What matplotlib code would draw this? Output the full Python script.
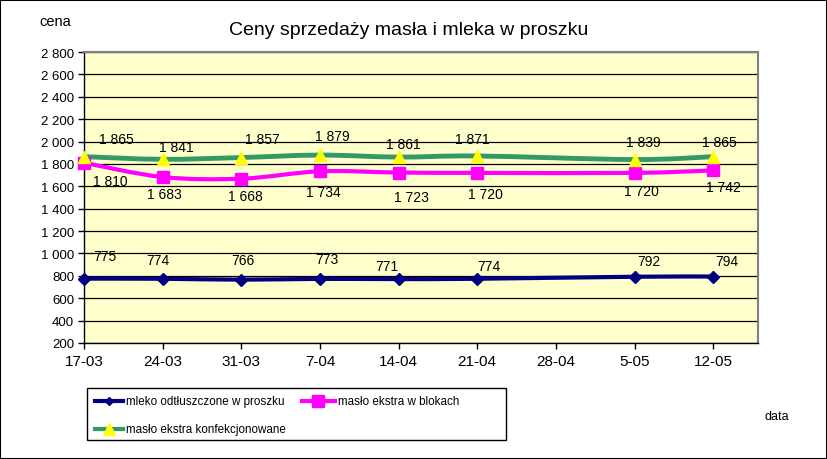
import matplotlib
matplotlib.use("Agg")
import matplotlib.pyplot as plt
from matplotlib.path import Path
from matplotlib.patches import PathPatch, Rectangle
from matplotlib.lines import Line2D
import numpy as np

plt.rcParams['font.family'] = ['Liberation Sans', 'DejaVu Sans']

categories = ['17-03', '24-03', '31-03', '7-04', '14-04', '21-04', '28-04', '5-05', '12-05']
mleko = [775, 774, 766, 773, 771, 774, None, 792, 794]
maslo_blok = [1810, 1683, 1668, 1734, 1723, 1720, None, 1720, 1742]
maslo_konf = [1865, 1841, 1857, 1879, 1861, 1871, None, 1839, 1865]

names = ['mleko odtłuszczone w proszku', 'masło ekstra w blokach', 'masło ekstra konfekcjonowane']

# label offsets in pixels (dx, dy) - style only
off_mleko = [(21, 23), (-5, 19), (2, 20), (7, 20), (-12, 13), (12, 13), None, (14, 16), (14, 16)]
off_blok = [(26, -18), (2, -17), (4, -17), (3, -21), (13, -24), (8, -21), None, (7, -18), (10, -17)]
off_konf = [(32, 18), (14, 12), (21, 19), (12, 19), (5, 13), (-5, 17), None, (9, 18), (6, 15)]

W, H = 828, 460
fig = plt.figure(figsize=(W / 100, H / 100), dpi=100)
ax = fig.add_axes([84 / W, 1 - 344 / H, (758 - 84) / W, (344 - 53) / H])
ax.set_facecolor('#FFFFCC')
ax.set_xlim(0, 8.57)
ax.set_ylim(200, 2800)
ax.set_yticks(np.arange(200, 2801, 200))
ax.set_yticklabels([f"{v:,}".replace(',', ' ') for v in range(200, 2801, 200)], fontsize=9.5)
ax.set_xticks(range(len(categories)))
ax.set_xticklabels(categories, fontsize=11)
ax.grid(axis='y', color='black', linewidth=0.9)
ax.set_axisbelow(True)
ax.tick_params(axis='y', length=4, width=1, pad=3, color='black')
ax.tick_params(axis='x', length=4, width=1, pad=4, color='black')
for s in ['top', 'right']:
    ax.spines[s].set_color('#808080')
    ax.spines[s].set_linewidth(1.5)
for s in ['left', 'bottom']:
    ax.spines[s].set_color('black')
    ax.spines[s].set_linewidth(1)


def smooth_path(xs, ys):
    pts = np.column_stack([xs, ys]).astype(float)
    n = len(pts)
    verts = [pts[0]]
    codes = [Path.MOVETO]
    for i in range(n - 1):
        p0 = pts[i - 1] if i > 0 else pts[i]
        p1 = pts[i]
        p2 = pts[i + 1]
        p3 = pts[i + 2] if i + 2 < n else pts[i + 1]
        c1 = p1 + (p2 - p0) / 6.0
        c2 = p2 - (p3 - p1) / 6.0
        verts += [c1, c2, p2]
        codes += [Path.CURVE4] * 3
    return Path(verts, codes)


series = [
    (mleko, '#000080', 3, 'D', 6.5, '#000080', off_mleko),
    (maslo_blok, '#FF00FF', 3, 's', 8, '#FF00FF', off_blok),
    (maslo_konf, '#339966', 3.5, '^', 8.5, '#FFFF00', off_konf),
]

for vals, col, lw, mk, ms, mfc, offs in series:
    xs = [i for i, v in enumerate(vals) if v is not None]
    ys = [v for v in vals if v is not None]
    ax.add_patch(PathPatch(smooth_path(xs, ys), facecolor='none', edgecolor=col,
                           linewidth=lw, zorder=3, capstyle='round', joinstyle='round',
                           clip_on=False))
    ax.plot(xs, ys, linestyle='none', marker=mk, markersize=ms,
            markerfacecolor=mfc, markeredgecolor=mfc, zorder=4, clip_on=False)
    for i, v in enumerate(vals):
        if v is None:
            continue
        dx, dy = offs[i]
        ax.annotate(f"{v:,}".replace(',', ' '), (i, v), xytext=(dx, dy),
                    textcoords='offset pixels', ha='center', va='center',
                    fontsize=10, color='black', zorder=5)

fig.text(409 / W, 1 - 31 / H, 'Ceny sprzedaży masła i mleka w proszku',
         ha='center', va='center', fontsize=14)
fig.text(55 / W, 1 - 22 / H, 'cena', ha='center', va='center', fontsize=10.5)
fig.text(777 / W, 1 - 417 / H, 'data', ha='center', va='center', fontsize=9)

# legend box
fig.patches.append(Rectangle((87 / W, 1 - 441 / H), (506 - 87) / W, (441 - 389) / H,
                             transform=fig.transFigure, facecolor='white',
                             edgecolor='black', linewidth=1, zorder=1))
leg_items = [
    (95, 123, 402, '#000080', 'D', 4, '#000080', names[0]),
    (302, 335, 402, '#FF00FF', 's', 8, '#FF00FF', names[1]),
    (95, 123, 430, '#339966', '^', 8, '#FFFF00', names[2]),
]
for x0, x1, yy, col, mk, ms, mfc, name in leg_items:
    fig.add_artist(Line2D([x0 / W, x1 / W], [1 - yy / H, 1 - yy / H], color=col,
                          linewidth=3, transform=fig.transFigure, zorder=2))
    fig.add_artist(Line2D([(x0 + x1) / 2 / W], [1 - yy / H], marker=mk, markersize=ms,
                          markerfacecolor=mfc, markeredgecolor=mfc,
                          transform=fig.transFigure, zorder=3, linestyle='none'))
    fig.text((x1 + 3) / W, 1 - yy / H, name, ha='left', va='center', fontsize=8.4,
             zorder=3)

# figure border
fig.patches.append(Rectangle((0.5 / W, 0.5 / H), 1 - 1.5 / W, 1 - 1.5 / H,
                             transform=fig.transFigure, facecolor='none',
                             edgecolor='black', linewidth=1.5, zorder=10))

fig.savefig('out.png', dpi=100)
